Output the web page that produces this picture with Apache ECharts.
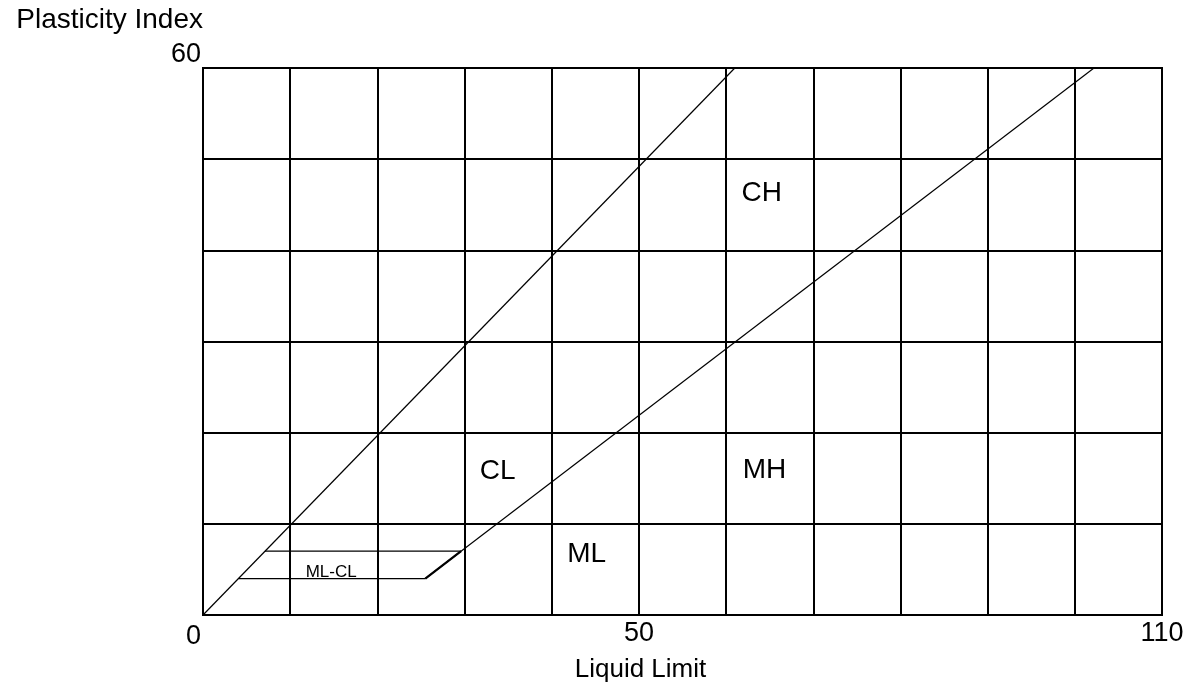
<!DOCTYPE html>
<html>
<head>
<meta charset="utf-8">
<title>Plasticity Chart</title>
<script src="https://cdn.jsdelivr.net/npm/echarts@6/dist/echarts.min.js"></script>
<style>
  html, body { margin: 0; padding: 0; background: #fff; }
  #chart { width: 1194px; height: 688px; }
</style>
</head>
<body>
<div id="chart"></div>
<script>
// axis ranges / tick labels
const xTickLabels = [50, 110];
const yTickLabels = [0, 60];

// boundary lines [LL, PI]
const upperLine = [[0, 0], [61, 60]];
const aLine = [[25.5, 4], [102.2, 60]];
const aLineZonePart = [[25.5, 4], [29.6, 7]]; // drawn heavier in the source
const mlclBottom = [[4.1, 4], [25.5, 4]];
const mlclTop = [[7.1, 7], [29.6, 7]];

// zone names and where they sit
const zoneNames = ['CH', 'CL', 'MH', 'ML', 'ML-CL'];
const zoneLL = [64.1, 33.8, 64.4, 44.0, 14.7];
const zonePI = [46.3, 15.8, 15.9, 6.7, 4.7];

const font = "'Liberation Sans', Arial, sans-serif";
const chart = echarts.init(document.getElementById('chart'));

const lineSeries = (data, width) => ({
  type: 'line',
  data: data,
  symbol: 'none',
  silent: true,
  lineStyle: { color: '#000', width: width || 1 },
  z: 3,
});

chart.setOption({
  animation: false,
  backgroundColor: '#fff',
  grid: {
    left: 203,
    right: 32,
    top: 68,
    bottom: 73,
    show: true,
    borderColor: '#000',
    borderWidth: 2,
  },
  xAxis: {
    type: 'value',
    min: 0,
    max: 110,
    interval: 10,
    name: 'Liquid Limit',
    nameLocation: 'middle',
    nameGap: 42,
    nameTextStyle: {
      fontFamily: font,
      fontSize: 26,
      color: '#000',
      padding: [0, 84, 0, 0], // push left, it sits under 50
    },
    axisLine: { lineStyle: { color: '#000', width: 2 } },
    axisTick: { show: false },
    axisLabel: {
      margin: 5,
      fontFamily: font,
      fontSize: 27,
      color: '#000',
      formatter: v => (xTickLabels.indexOf(v) >= 0 ? String(v) : ''),
    },
    splitLine: { show: true, lineStyle: { color: '#000', width: 2 } },
  },
  yAxis: {
    type: 'value',
    min: 0,
    max: 60,
    interval: 10,
    name: 'Plasticity Index',
    nameLocation: 'end',
    nameGap: 34,
    nameTextStyle: {
      fontFamily: font,
      fontSize: 28,
      color: '#000',
      align: 'right',
      verticalAlign: 'bottom',
    },
    axisLine: { lineStyle: { color: '#000', width: 2 } },
    axisTick: { show: false },
    axisLabel: {
      margin: 2,
      fontFamily: font,
      fontSize: 27,
      color: '#000',
      formatter: v => {
        if (yTickLabels.indexOf(v) < 0) return '';
        return v === 0 ? '{lo|' + v + '}' : '{hi|' + v + '}';
      },
      rich: {
        lo: { fontFamily: font, fontSize: 27, color: '#000', padding: [44, 0, 0, 0] },
        hi: { fontFamily: font, fontSize: 27, color: '#000', padding: [0, 0, 26, 0] },
      },
    },
    splitLine: { show: true, lineStyle: { color: '#000', width: 2 } },
  },
  series: [
    lineSeries(upperLine, 1.2),
    lineSeries(aLine, 1.2),
    lineSeries(aLineZonePart, 2.2),
    lineSeries(mlclBottom, 1.2),
    lineSeries(mlclTop, 1.2),
    {
      type: 'scatter',
      silent: true,
      symbolSize: 0,
      itemStyle: { color: '#000', opacity: 1 },
      data: zoneNames.map((n, i) => ({
        name: n,
        value: [zoneLL[i], zonePI[i]],
        // ML-CL is written smaller than the others
        label: { fontSize: n === 'ML-CL' ? 17 : 28 },
      })),
      label: {
        show: true,
        position: [0, 0],
        align: 'center',
        verticalAlign: 'middle',
        formatter: p => p.name,
        fontFamily: font,
        fontSize: 28,
        color: '#000',
        textBorderWidth: 0,
      },
      labelLayout: { hideOverlap: false },
      z: 4,
    },
  ],
});
</script>
</body>
</html>
